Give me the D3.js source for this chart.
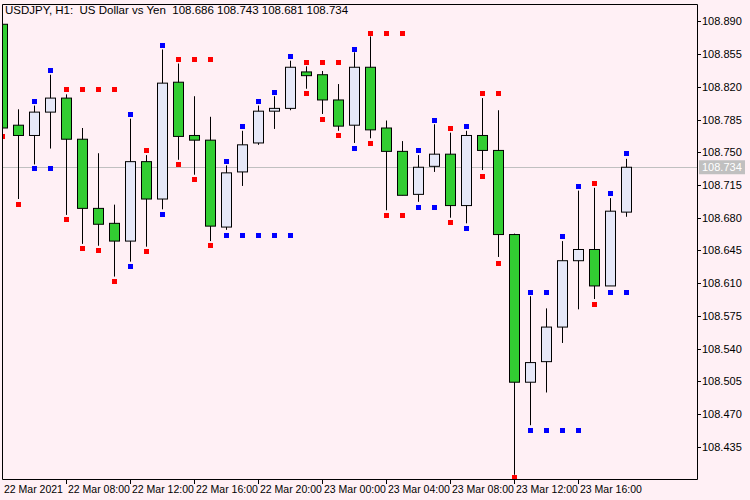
<!DOCTYPE html>
<html>
<head>
  <meta charset="utf-8">
  <title>USDJPY H1</title>
  <script src="https://d3js.org/d3.v7.min.js"></script>
  <style>
    body { margin: 0; background: #fff0f5; }
    svg { display: block; font-family: "Liberation Sans", Arial, sans-serif; }
  </style>
</head>
<body>
<svg id="chart" width="750" height="500"></svg>
<script>
  // 40 hourly bars starting 22 Mar 2021 04:00
  var open  = [108.887,108.779,108.768,108.793,108.808,108.764,108.690,108.674,108.655,108.740,
               108.700,108.825,108.768,108.763,108.670,108.729,108.760,108.794,108.797,108.836,
               108.833,108.806,108.779,108.841,108.776,108.751,108.705,108.735,108.748,108.693,
               108.768,108.752,108.662,108.504,108.526,108.563,108.634,108.646,108.607,108.686];
  var high  = [108.905,108.796,108.800,108.833,108.812,108.776,108.749,108.694,108.786,108.747,
               108.860,108.845,108.810,108.788,108.736,108.773,108.800,108.810,108.848,108.842,
               108.837,108.823,108.857,108.874,108.784,108.762,108.747,108.780,108.771,108.773,
               108.808,108.795,108.663,108.596,108.583,108.655,108.709,108.712,108.701,108.743];
  var low   = [108.773,108.700,108.737,108.754,108.683,108.652,108.650,108.617,108.633,108.649,
               108.689,108.742,108.726,108.655,108.667,108.714,108.758,108.775,108.795,108.818,
               108.791,108.773,108.760,108.765,108.688,108.704,108.697,108.729,108.680,108.674,
               108.731,108.638,108.405,108.458,108.493,108.546,108.582,108.593,108.607,108.681];
  var close = [108.776,108.768,108.793,108.808,108.764,108.690,108.673,108.655,108.740,108.700,
               108.824,108.767,108.763,108.671,108.728,108.758,108.794,108.797,108.841,108.832,
               108.806,108.778,108.841,108.774,108.751,108.704,108.734,108.748,108.693,108.768,
               108.752,108.662,108.504,108.525,108.563,108.634,108.646,108.607,108.687,108.734];

  var N = null;
  var redUp   = [N,N,N,N,108.818,108.818,108.818,108.818,N,108.752,
                 N,108.850,108.850,108.850,N,N,N,N,N,108.847,
                 108.847,108.847,N,108.878,108.878,108.878,N,N,108.776,N,
                 108.813,108.813,N,N,N,N,N,108.717,N,N];
  var redDn   = [108.767,108.695,N,N,108.679,108.648,108.645,108.612,N,108.644,
                 N,108.737,108.721,108.651,N,N,N,N,N,108.813,
                 108.786,108.768,N,108.760,108.683,108.683,N,N,108.675,N,
                 108.725,108.632,108.403,N,N,N,N,108.588,N,N];
  var blueUp  = [N,N,108.805,108.838,N,N,N,N,108.791,N,
                 108.865,N,N,N,108.741,108.778,108.805,108.815,108.853,N,
                 N,N,108.861,N,N,N,108.752,108.785,N,108.778,
                 N,N,N,108.600,108.600,108.660,108.714,N,108.706,108.749];
  var blueDn  = [N,N,108.733,108.733,N,N,N,N,108.628,N,
                 108.684,N,N,N,108.662,108.662,108.662,108.662,108.662,N,
                 N,N,108.755,N,N,N,108.691,108.691,N,108.669,
                 N,N,N,108.453,108.453,108.453,108.453,N,108.601,108.601];

  var priceTicks = [108.890,108.855,108.820,108.785,108.750,108.715,108.680,108.645,
                    108.610,108.575,108.540,108.505,108.470,108.435];
  var timeLabels = [
    {i: 0,  text: '22 Mar 2021'}, {i: 4,  text: '22 Mar 08:00'}, {i: 8,  text: '22 Mar 12:00'},
    {i: 12, text: '22 Mar 16:00'}, {i: 16, text: '22 Mar 20:00'}, {i: 20, text: '23 Mar 00:00'},
    {i: 24, text: '23 Mar 04:00'}, {i: 28, text: '23 Mar 08:00'}, {i: 32, text: '23 Mar 12:00'},
    {i: 36, text: '23 Mar 16:00'}
  ];
  var lastPrice = 108.734;

  var pLeft = 3, pRight = 697, pTop = 5, pBottom = 479;
  var svg = d3.select('#chart');

  var x = d3.scaleLinear().domain([0, 39]).range([2, 626]);
  var y = d3.scaleLinear().domain([108.750, 108.435]).range([152.3, 446.7]);

  svg.append('clipPath').attr('id', 'clip')
    .append('rect').attr('x', pLeft).attr('y', pTop)
    .attr('width', pRight - pLeft).attr('height', pBottom - pTop);

  var plot = svg.append('g').attr('clip-path', 'url(#clip)');

  // current price line
  plot.append('line')
    .attr('x1', pLeft).attr('x2', pRight)
    .attr('y1', Math.round(y(lastPrice)) + 0.5).attr('y2', Math.round(y(lastPrice)) + 0.5)
    .attr('stroke', '#c0c0c0');

  var idx = d3.range(open.length);

  plot.selectAll('line.wick').data(idx).enter().append('line')
    .attr('class', 'wick')
    .attr('x1', function(i) { return Math.round(x(i)) + 0.5 })
    .attr('x2', function(i) { return Math.round(x(i)) + 0.5 })
    .attr('y1', function(i) { return y(high[i]) })
    .attr('y2', function(i) { return y(low[i]) })
    .attr('stroke', '#000');

  plot.selectAll('rect.body').data(idx).enter().append('rect')
    .attr('class', 'body')
    .attr('x', function(i) { return Math.round(x(i)) - 4.5 })
    .attr('y', function(i) { return y(Math.max(open[i], close[i])) })
    .attr('width', 10)
    .attr('height', function(i) { return Math.max(1, Math.abs(y(open[i]) - y(close[i]))) })
    .attr('fill', function(i) { return close[i] >= open[i] ? '#e6e8f8' : '#32cd32' })
    .attr('stroke', '#000');

  function markers(arr, color) {
    plot.selectAll(null).data(idx.filter(function(i) { return arr[i] !== null })).enter()
      .append('rect')
      .attr('x', function(i) { return Math.round(x(i)) - 2 })
      .attr('y', function(i) { return Math.round(y(arr[i])) - 2 })
      .attr('width', 5).attr('height', 5)
      .attr('fill', color);
  }
  markers(redUp, '#ff0000');
  markers(redDn, '#ff0000');
  markers(blueUp, '#0000ff');
  markers(blueDn, '#0000ff');

  // frame
  svg.append('path')
    .attr('d', 'M' + (pLeft - 0.5) + ',' + (pTop - 0.5) + 'H' + (pRight + 0.5) + 'V' + (pBottom + 0.5) + 'H' + (pLeft - 0.5) + 'Z')
    .attr('fill', 'none').attr('stroke', '#000');

  // price axis
  var pa = svg.append('g');
  pa.selectAll('line').data(priceTicks).enter().append('line')
    .attr('x1', pRight).attr('x2', pRight + 4)
    .attr('y1', function(d) { return Math.round(y(d)) + 0.5 })
    .attr('y2', function(d) { return Math.round(y(d)) + 0.5 })
    .attr('stroke', '#000');
  pa.selectAll('text').data(priceTicks).enter().append('text')
    .attr('x', pRight + 5).attr('y', function(d) { return y(d) + 4 })
    .attr('font-size', 11).text(function(d) { return d.toFixed(3) });

  svg.append('rect').attr('x', pRight + 2).attr('y', y(lastPrice) - 7)
    .attr('width', 46).attr('height', 14).attr('fill', '#c0c0c0');
  svg.append('text').attr('x', pRight + 5).attr('y', y(lastPrice) + 4)
    .attr('font-size', 11).attr('fill', '#fff').text(lastPrice.toFixed(3));

  // time axis
  var ta = svg.append('g');
  ta.selectAll('line').data(timeLabels.slice(1)).enter().append('line')
    .attr('x1', function(d) { return Math.round(x(d.i)) + 0.5 })
    .attr('x2', function(d) { return Math.round(x(d.i)) + 0.5 })
    .attr('y1', pBottom).attr('y2', pBottom + 5)
    .attr('stroke', '#000');
  ta.selectAll('text').data(timeLabels).enter().append('text')
    .attr('x', function(d) { return d.i === 0 ? 4 : Math.round(x(d.i)) + 2 })
    .attr('y', 493).attr('font-size', 10.5)
    .text(function(d) { return d.text });

  svg.append('text').attr('x', 5).attr('y', 14).attr('font-size', 11.5)
    .attr('xml:space', 'preserve')
    .text('USDJPY, H1:  US Dollar vs Yen  108.686 108.743 108.681 108.734');
</script>
</body>
</html>
